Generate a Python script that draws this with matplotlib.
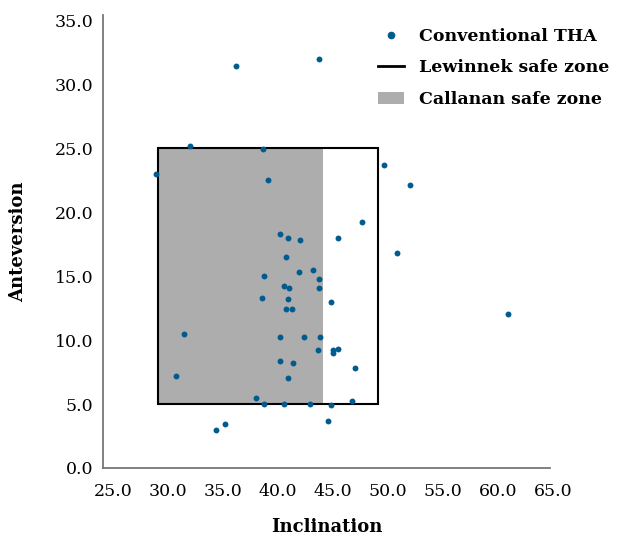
import matplotlib
matplotlib.use('Agg')
import matplotlib.pyplot as plt
from matplotlib.lines import Line2D
from matplotlib.patches import Patch, Rectangle
from matplotlib.transforms import ScaledTranslation

# значения
inclination = [29.8, 32.9, 37.1, 44.6, 39.5, 40.0, 50.5, 52.9, 48.5, 41.1,
               41.8, 42.9, 46.3, 51.7, 41.6, 42.8, 44.1, 44.6, 39.6, 41.4,
               41.9, 44.6, 39.4, 41.8, 45.7, 41.6, 42.2, 61.8, 32.4, 41.1,
               43.3, 44.7, 44.5, 45.9, 46.3, 45.9, 41.1, 42.3, 47.9, 31.6,
               41.8, 38.9, 39.6, 41.4, 43.8, 45.7, 47.6, 45.4, 35.3, 36.1]
anteversion = [23.0, 25.2, 31.4, 32.0, 24.9, 22.5, 23.7, 22.1, 19.2, 18.3,
               18.0, 17.8, 18.0, 16.8, 16.5, 15.3, 15.5, 14.8, 15.0, 14.2,
               14.1, 14.1, 13.3, 13.2, 13.0, 12.4, 12.4, 12.0, 10.5, 10.2,
               10.2, 10.2, 9.2, 9.2, 9.3, 9.0, 8.4, 8.2, 7.8, 7.2,
               7.0, 5.5, 5.0, 5.0, 5.0, 4.9, 5.2, 3.7, 3.0, 3.4]

lewinnek = (30, 50, 5, 25)   # inclination min/max, anteversion min/max
callanan = (30, 45, 5, 25)

x_ticks = [25, 30, 35, 40, 45, 50, 55, 60, 65]
y_ticks = [0, 5, 10, 15, 20, 25, 30, 35]

DOT = '#005b8f'
GRAY = '#adadad'

plt.rcParams['font.family'] = ['DejaVu Serif']

fig = plt.figure(figsize=(6.34, 5.35), dpi=100)
ax = fig.add_axes([103 / 634, 1 - 468 / 535, 447 / 634, 453 / 535])

ax.add_patch(Rectangle((callanan[0], callanan[2]), callanan[1] - callanan[0],
                       callanan[3] - callanan[2], facecolor=GRAY,
                       edgecolor='none', zorder=1))
ax.add_patch(Rectangle((lewinnek[0], lewinnek[2]), lewinnek[1] - lewinnek[0],
                       lewinnek[3] - lewinnek[2], facecolor='none',
                       edgecolor='black', linewidth=1.5, zorder=2))
ax.scatter(inclination, anteversion, s=18, color=DOT, zorder=3,
           linewidths=0)

ax.set_xlim(25, 65.6)
ax.set_ylim(0, 35.4)
ax.set_xticks(x_ticks)
ax.set_yticks(y_ticks)
ax.set_xticklabels([f'{v:.1f}' for v in x_ticks])
ax.set_yticklabels([f'{v:.1f}' for v in y_ticks])
ax.tick_params(length=0, labelsize=12.5)
ax.tick_params(axis='x', pad=11)
ax.tick_params(axis='y', pad=7)

# подписи по оси x в оригинале сдвинуты вправо
shift = ScaledTranslation(10 / 100, 0, fig.dpi_scale_trans)
for lab in ax.get_xticklabels():
    lab.set_transform(lab.get_transform() + shift)

for s in ['top', 'right']:
    ax.spines[s].set_visible(False)
for s in ['left', 'bottom']:
    ax.spines[s].set_color('#777777')
    ax.spines[s].set_linewidth(1.3)

ax.set_xlabel('Inclination', fontsize=13, fontweight='bold', labelpad=13)
ax.set_ylabel('Anteversion', fontsize=13, fontweight='bold', labelpad=20)

handles = [
    Line2D([], [], marker='o', linestyle='none', color=DOT, markersize=4.5),
    Line2D([], [], color='black', linewidth=2),
    Patch(facecolor=GRAY, edgecolor='none'),
]
labels = ['Conventional THA', 'Lewinnek safe zone', 'Callanan safe zone']
fig.legend(handles, labels, loc='upper left',
           bbox_to_anchor=(362 / 634, 1 - 12 / 535), frameon=False,
           prop={'size': 12.5, 'weight': 'bold'}, handlelength=1.5,
           handletextpad=0.9, labelspacing=0.85)

fig.savefig('out.png', dpi=100)
